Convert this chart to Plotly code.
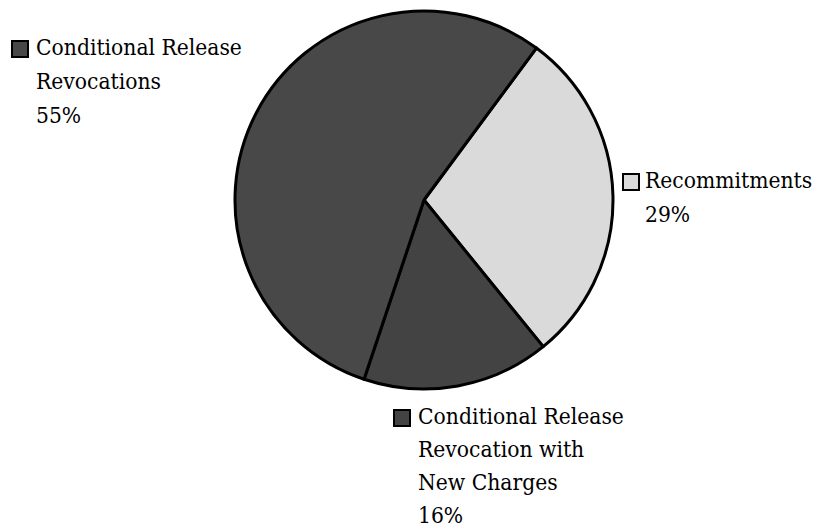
import plotly.graph_objects as go

# Composition of admissions by type
categories = ["Recommitments", "Conditional Release Revocation with New Charges", "Conditional Release Revocations"]
shares = [29, 16, 55]
label_lines = [
    ["Recommitments"],
    ["Conditional Release", "Revocation with", "New Charges"],
    ["Conditional Release", "Revocations"],
]
slice_colors = ["#dadada", "#434343", "#484848"]

W, H = 817, 529
cx, cy, r = 424, 200, 189

fig = go.Figure()
fig.add_trace(go.Pie(
    labels=categories,
    values=shares,
    sort=False,
    direction="clockwise",
    rotation=36.5,
    textinfo="none",
    hoverinfo="label+percent",
    showlegend=False,
    marker=dict(colors=slice_colors, line=dict(color="#000000", width=3)),
    domain=dict(x=[(cx - r) / W, (cx + r) / W], y=[(H - cy - r) / H, (H - cy + r) / H]),
))

font = dict(family="DejaVu Serif Condensed", size=22.6, color="#000000")

# label placement: (text left x, first line center y, line step, key box center x, key box center y) in pixels
placements = [
    (643, 180, 34, 631, 182),
    (416, 416, 33, 402, 418),
    (34, 47, 34, 20, 49),
]

for i, (tx, ty, step, mx, my) in enumerate(placements):
    lines = label_lines[i] + [f"{shares[i]}%"]
    for k, line in enumerate(lines):
        fig.add_annotation(
            x=tx / W, y=1 - (ty + k * step) / H, xref="paper", yref="paper",
            xanchor="left", yanchor="middle", align="left",
            text=line, showarrow=False, font=font,
        )
    s = 8
    fig.add_shape(
        type="rect", xref="paper", yref="paper",
        x0=(mx - s) / W, x1=(mx + s) / W, y0=1 - (my + s) / H, y1=1 - (my - s) / H,
        fillcolor=slice_colors[i], line=dict(color="#000000", width=2),
    )

fig.update_layout(
    width=W, height=H,
    margin=dict(l=0, r=0, t=0, b=0),
    paper_bgcolor="#ffffff",
    plot_bgcolor="#ffffff",
)

fig.write_html("out.html")
